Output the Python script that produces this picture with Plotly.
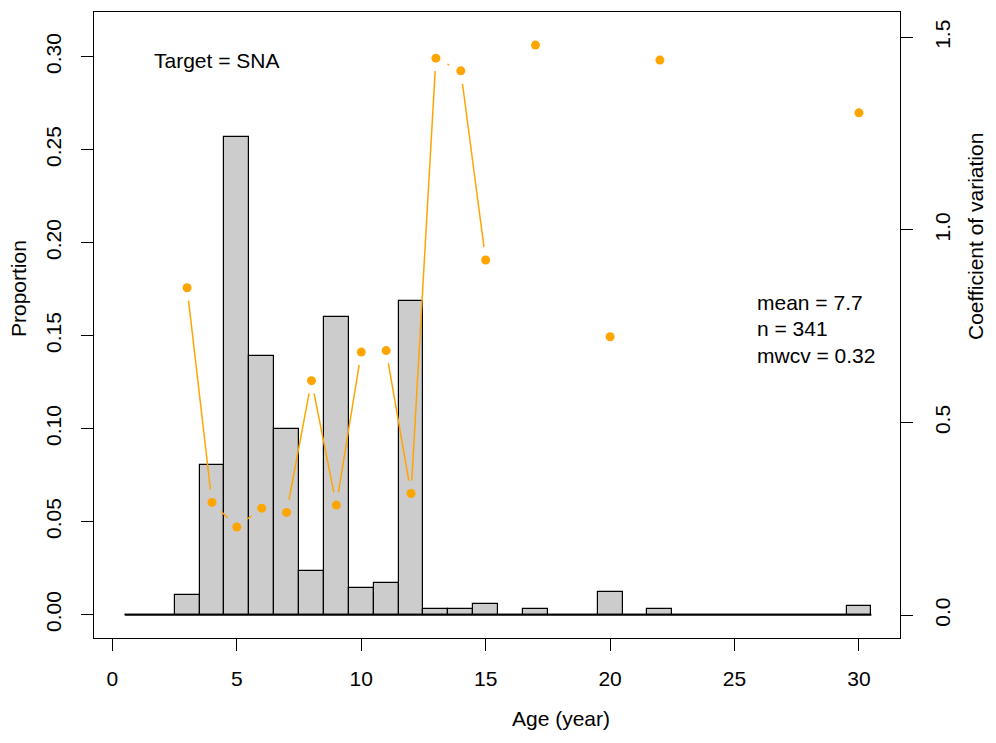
import math
import plotly.graph_objects as go

# ---- data ----
ages = list(range(1, 31))
proportion = [0, 0, 0.0106, 0.0806, 0.257, 0.1392, 0.100, 0.0237, 0.1602, 0.0145,
              0.0169, 0.1685, 0.0029, 0.0029, 0.0059, 0, 0.0029, 0, 0, 0.012,
              0, 0.0029, 0, 0, 0, 0, 0, 0, 0, 0.0045]
cv_ages = [3, 4, 5, 6, 7, 8, 9, 10, 11, 12, 13, 14, 15, 17, 20, 22, 30]
cv_values = [0.850, 0.293, 0.229, 0.278, 0.267, 0.609, 0.286, 0.683, 0.687, 0.316,
             1.446, 1.413, 0.922, 1.480, 0.723, 1.441, 1.304]
left_ticks = [0.00, 0.05, 0.10, 0.15, 0.20, 0.25, 0.30]
right_ticks = [0.0, 0.5, 1.0, 1.5]
x_ticks = [0, 5, 10, 15, 20, 25, 30]
stats_text = ["mean = 7.7", "n = 341", "mwcv = 0.32"]
target_text = "Target = SNA"

# ---- layout geometry (page body has an 8px margin) ----
OFF = 8
W, H = 996 - 2 * OFF, 743 - 2 * OFF
BOX_L, BOX_R, BOX_T, BOX_B = 94, 900, 12, 638  # in screen pixels
ML, MT = BOX_L - OFF, BOX_T - OFF
MR = W - (BOX_R - OFF)
MB = H - (BOX_B - OFF)
PW, PH = W - ML - MR, H - MT - MB
xr = [-0.74, 31.65]
y1r = [-0.01253, 0.32403]
y2r = [-0.0590, 1.5658]
FONT = "Liberation Sans, Arial, sans-serif"
FS = 21
ORANGE = "#FFA500"

px_x = PW / (xr[1] - xr[0])
px_y2 = PH / (y2r[1] - y2r[0])

# type="b" style segments with gaps around points
gap = 13.0
seg_x, seg_y = [], []
for i in range(len(cv_ages) - 1):
    a0, a1 = cv_ages[i], cv_ages[i + 1]
    if a1 - a0 != 1:
        continue
    v0, v1 = cv_values[i], cv_values[i + 1]
    dx = (a1 - a0) * px_x
    dy = (v1 - v0) * px_y2
    L = math.hypot(dx, dy)
    if L <= 2 * gap:
        continue
    f = gap / L
    seg_x += [a0 + (a1 - a0) * f, a1 - (a1 - a0) * f, None]
    seg_y += [v0 + (v1 - v0) * f, v1 - (v1 - v0) * f, None]

fig = go.Figure()
fig.add_trace(go.Scatter(x=[ages[0] - 0.5, ages[-1] + 0.5], y=[0, 0], mode="lines",
                         line=dict(color="black", width=2), showlegend=False, hoverinfo="skip"))
fig.add_trace(go.Bar(x=ages, y=proportion, width=1.0,
                     marker=dict(color="#CCCCCC", line=dict(color="black", width=1.2)),
                     showlegend=False))
fig.add_trace(go.Scatter(x=seg_x, y=seg_y, mode="lines", yaxis="y2",
                         line=dict(color=ORANGE, width=1.5), showlegend=False, hoverinfo="skip"))
fig.add_trace(go.Scatter(x=cv_ages, y=cv_values, mode="markers", yaxis="y2",
                         marker=dict(color=ORANGE, size=9), showlegend=False))

def px2paper_x(p):
    return (p - OFF - ML) / PW

def px2paper_y(p):
    return 1 - (p - OFF - MT) / PH

def note(text, x, y, xanchor="center", angle=0):
    return dict(text=text, x=px2paper_x(x), y=px2paper_y(y), xref="paper", yref="paper",
                xanchor=xanchor, yanchor="middle", textangle=angle, showarrow=False,
                font=dict(size=FS, color="black", family=FONT))

ann = [note(target_text, 152, 60, "left")]
for t, yy in zip(stats_text, [302, 328, 355]):
    ann.append(note(t, 755, yy, "left"))
ann.append(note("Proportion", 19, 289, angle=-90))
ann.append(note("Coefficient of variation", 976, 237, angle=-90))
ann.append(note("Age (year)", 561, 718))

axis_common = dict(showgrid=False, zeroline=False, ticks="outside", ticklen=12, tickwidth=1,
                   tickcolor="black", linecolor="black", linewidth=1.2, automargin=False,
                   tickfont=dict(size=FS, color="black", family=FONT))

fig.update_layout(
    width=W, height=H, margin=dict(l=ML, r=MR, t=MT, b=MB, autoexpand=False),
    plot_bgcolor="white", paper_bgcolor="white", bargap=0,
    annotations=ann,
    xaxis=dict(range=xr, tickmode="array", tickvals=x_ticks, showline=True, mirror=True,
               ticklabelstandoff=10, **axis_common),
    yaxis=dict(range=y1r, tickmode="array", tickvals=left_ticks, tickformat=".2f", tickangle=-90,
               showline=True, mirror=True, ticklabelstandoff=12, **axis_common),
    yaxis2=dict(range=y2r, overlaying="y", side="right", tickmode="array", tickvals=right_ticks,
                tickformat=".1f", tickangle=-90, showline=False, ticklabelstandoff=12, **axis_common),
)

fig.write_html("out.html")
